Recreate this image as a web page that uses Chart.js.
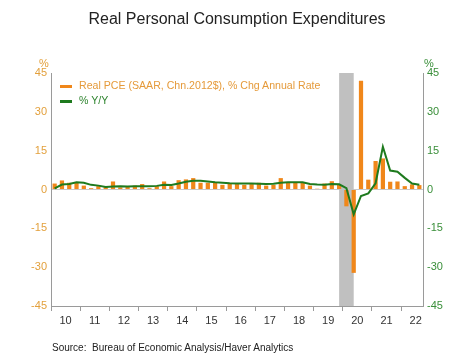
<!DOCTYPE html>
<html>
<head>
<meta charset="utf-8">
<script src="https://cdn.jsdelivr.net/npm/chart.js@4/dist/chart.umd.min.js"></script>
<style>
  html, body { margin: 0; padding: 0; background: #fff; }
  #wrap { position: relative; width: 474px; height: 355px; font-family: "Liberation Sans", Arial, sans-serif; }
  #c { position: absolute; left: 0; top: 0; }
  .t { position: absolute; white-space: nowrap; }
  #title { left: 0; width: 474px; top: 10px; text-align: center; font-size: 16px; color: #222; }
  #pl { left: 39px; top: 57px; font-size: 11px; color: #E3A03C; }
  #pr { left: 424px; top: 57px; font-size: 11px; color: #3A8F3A; }
  .leg { font-size: 10.6px; }
  .sw { position: absolute; width: 12px; height: 3px; }
  #source { left: 52px; top: 342px; font-size: 10px; color: #222; }
</style>
</head>
<body>
<div id="wrap">
  <canvas id="c" width="474" height="355"></canvas>
  <div class="t" id="title">Real Personal Consumption Expenditures</div>
  <div class="t" id="pl">%</div>
  <div class="t" id="pr">%</div>
  <div class="sw" style="left:60px;top:85px;background:#F0871A"></div>
  <div class="t leg" style="left:79px;top:79px;color:#E59A3A">Real PCE (SAAR, Chn.2012$), % Chg Annual Rate</div>
  <div class="sw" style="left:60px;top:100px;background:#1E7A1E"></div>
  <div class="t leg" style="left:79px;top:94px;color:#2E842E">% Y/Y</div>
  <div class="t" id="source">Source:&nbsp; Bureau of Economic Analysis/Haver Analytics</div>
</div>
<script>
const years = ['10','11','12','13','14','15','16','17','18','19','20','21','22'];
const quarters = ['Q1','Q2','Q3','Q4'];
// 2010Q1 .. 2022Q3
const categories = [];
years.forEach(y => quarters.forEach(q => categories.push('20' + y + q)));
categories.length = 51;

const pceSAAR = [
  2.3, 3.5, 2.6, 2.6,
  1.5, 0.5, 1.3, 0.9,
  3.1, 0.8, 1.3, 1.5,
  2.1, 0.5, 1.3, 3.1,
  1.3, 3.6, 3.9, 4.4,
  2.6, 2.6, 2.6, 1.8,
  2.3, 2.1, 1.8, 2.1,
  2.6, 1.5, 1.8, 4.4,
  2.6, 2.6, 2.6, 1.5,
  0.3, 2.3, 3.2, 1.8,
  -6.5, -32.2, 42.0, 3.8,
  11.0, 12.0, 3.0, 3.1,
  1.3, 2.0, 1.7
];
const pceYoY = [
  0.4, 1.9, 2.1, 2.8,
  2.6, 1.8, 1.5, 1.0,
  1.2, 1.3, 1.2, 1.3,
  1.3, 1.3, 1.4, 1.8,
  1.7, 2.3, 3.0, 3.4,
  3.4, 3.1, 2.8, 2.6,
  2.4, 2.3, 2.3, 2.3,
  2.2, 2.1, 2.2, 2.6,
  2.8, 2.8, 2.8, 2.1,
  1.9, 1.8, 2.1, 2.0,
  0.5, -9.6, -2.5, -1.5,
  2.4, 16.5, 7.3, 6.9,
  4.5, 2.3, 1.8
];
const yTicks = [-45, -30, -15, 0, 15, 30, 45];
const recession = ['2019Q4', '2020Q2'];

const recessionPlugin = {
  id: 'recession',
  beforeDatasetsDraw(chart) {
    const x = chart.scales.x, a = chart.chartArea, ctx = chart.ctx;
    const x0 = x.getPixelForValue(categories.indexOf(recession[0]));
    const x1 = x.getPixelForValue(categories.indexOf(recession[1]));
    ctx.save();
    ctx.fillStyle = '#C0C0C0';
    ctx.fillRect(x0, a.top, x1 - x0, a.bottom - a.top);
    ctx.restore();
  }
};

const gray = '#9A9A9A';
new Chart(document.getElementById('c'), {
  data: {
    labels: categories,
    datasets: [
      { type: 'line', label: '% Y/Y', data: pceYoY, yAxisID: 'y1',
        borderColor: '#1E7A1E', borderWidth: 2, pointRadius: 0, tension: 0, order: 0 },
      { type: 'bar', label: 'Real PCE (SAAR, Chn.2012$), % Chg Annual Rate', data: pceSAAR, yAxisID: 'y',
        backgroundColor: '#F0871A', barPercentage: 0.58, categoryPercentage: 1.0, order: 1 }
    ]
  },
  options: {
    responsive: false,
    animation: false,
    events: [],
    layout: { padding: { top: 73, bottom: 0, left: 0, right: 0 } },
    plugins: { legend: { display: false }, tooltip: { enabled: false }, title: { display: false } },
    scales: {
      x: {
        type: 'category',
        offset: true,
        afterFit: s => { s.height = 49; },
        border: { display: true, color: gray },
        grid: {
          offset: true, drawOnChartArea: false, tickLength: 5,
          tickColor: c => (c.index % 4 === 0 ? gray : 'rgba(0,0,0,0)')
        },
        ticks: {
          autoSkip: false, maxRotation: 0, padding: 3, labelOffset: 3.65,
          color: '#333', font: { size: 11, family: 'Liberation Sans' },
          callback: (v, i) => (i % 4 === 1 ? years[Math.floor(i / 4)] : '')
        }
      },
      y: {
        position: 'left', min: -45, max: 45,
        afterFit: s => { s.width = 51; },
        afterBuildTicks: s => { s.ticks = yTicks.map(v => ({ value: v })); },
        border: { display: true, color: gray },
        grid: { drawTicks: false, color: c => (c.tick && c.tick.value === 0 ? '#C8C8C8' : 'rgba(0,0,0,0)') },
        ticks: { padding: 4, color: '#E3A03C', font: { size: 11, family: 'Liberation Sans' } }
      },
      y1: {
        position: 'right', min: -45, max: 45,
        afterFit: s => { s.width = 51; },
        afterBuildTicks: s => { s.ticks = yTicks.map(v => ({ value: v })); },
        border: { display: true, color: gray },
        grid: { drawOnChartArea: false, drawTicks: false },
        ticks: { padding: 4, color: '#3A8F3A', font: { size: 11, family: 'Liberation Sans' } }
      }
    }
  },
  plugins: [recessionPlugin]
});
</script>
</body>
</html>
